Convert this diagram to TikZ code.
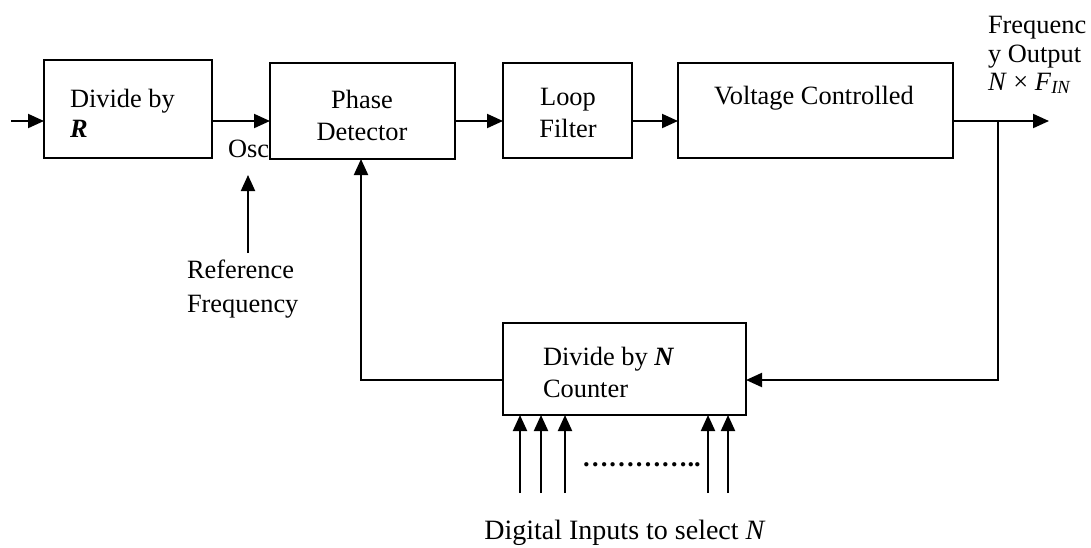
\documentclass[tikz,border=0pt]{standalone}
\usepackage{fontspec}
\setmainfont{Liberation Serif}
\usetikzlibrary{arrows.meta}
\tikzset{
  box/.style={draw, line width=1pt, inner sep=0pt, outer sep=0pt},
  arr/.style={line width=1pt, -{Triangle[length=8pt,width=7pt]}},
  wire/.style={line width=1pt},
  lbl/.style={inner sep=0pt, outer sep=0pt, font=\fontsize{13.2}{15}\selectfont},
}
\begin{document}
\begin{tikzpicture}[x=0.5pt,y=-0.5pt]
\useasboundingbox (0,0) rectangle (1091,547);
% boxes
\node[box, minimum width=84pt, minimum height=49pt] (divR) at (128,109) {};
\node[box, minimum width=92.5pt, minimum height=48pt] (pd) at (362.5,111) {};
\node[box, minimum width=64.5pt, minimum height=47.5pt] (lf) at (567.5,110.5) {};
\node[box, minimum width=137.5pt, minimum height=47.5pt] (vco) at (815.5,110.5) {};
\node[box, minimum width=121.5pt, minimum height=46pt] (cnt) at (624.5,369) {};
% texts
\node[lbl, anchor=base west] (t1) at (70,107) {Divide by};
\node[lbl, anchor=base west] (t2) at (70,137) {\textbf{\textit{R}}};
\node[lbl, anchor=base] (t3) at (362,108) {Phase};
\node[lbl, anchor=base] (t4) at (362,140) {Detector};
\node[lbl, anchor=base] (t5) at (568,105) {Loop};
\node[lbl, anchor=base] (t6) at (568,137) {Filter};
\node[lbl, anchor=base] (t7) at (814,104) {Voltage Controlled};
\node[lbl, anchor=base west] (t8) at (228,157) {Osc};
\node[lbl, anchor=base west] (t9) at (187,278) {Reference};
\node[lbl, anchor=base west] (t10) at (187,312) {Frequency};
\node[lbl, anchor=base west] (t11) at (988,33) {Frequenc};
\node[lbl, anchor=base west] (t12) at (988,62) {y Output};
\node[lbl, anchor=base west] (t13) at (988,90) {\textit{N} × \textit{F}\textsubscript{\textit{IN}}};
\node[lbl, anchor=base west] (t14) at (543,365) {Divide by \textbf{\textit{N}}};
\node[lbl, anchor=base west] (t15) at (543,397) {Counter};
\node[lbl, anchor=base west] (t16) at (582,466) {\textbf{…………..}};
\node[lbl, anchor=base, font=\fontsize{14}{16}\selectfont] (t17) at (625,539) {Digital Inputs to select \textit{N}};
% coordinates
\coordinate (in) at (11,121);
\coordinate (out) at (1049,121);
\coordinate (br) at (998,121);
\coordinate (fb) at (998,380);
\coordinate (fbl) at (361,380);
\coordinate (ref) at (248,253);
\coordinate (reftip) at (248,175);
% forward path
\draw[arr] (in) -- (divR.west |- in);
\draw[arr] (divR.east |- in) -- (pd.west |- in);
\draw[arr] (pd.east |- in) -- (lf.west |- in);
\draw[arr] (lf.east |- in) -- (vco.west |- in);
\draw[arr] (vco.east |- in) -- (out);
% reference
\draw[arr] (ref) -- (reftip);
% feedback
\draw[arr] (br) -- (fb) -- (cnt.east |- fb);
\draw[arr] (cnt.west |- fb) -- (fbl) -- (fbl |- pd.south);
% digital inputs
\foreach \i/\x in {1/520,2/541,3/565,4/708,5/728}{
  \coordinate (d\i) at (\x,493);
  \draw[arr] (d\i) -- (d\i |- cnt.south);
}
\end{tikzpicture}
\end{document}
